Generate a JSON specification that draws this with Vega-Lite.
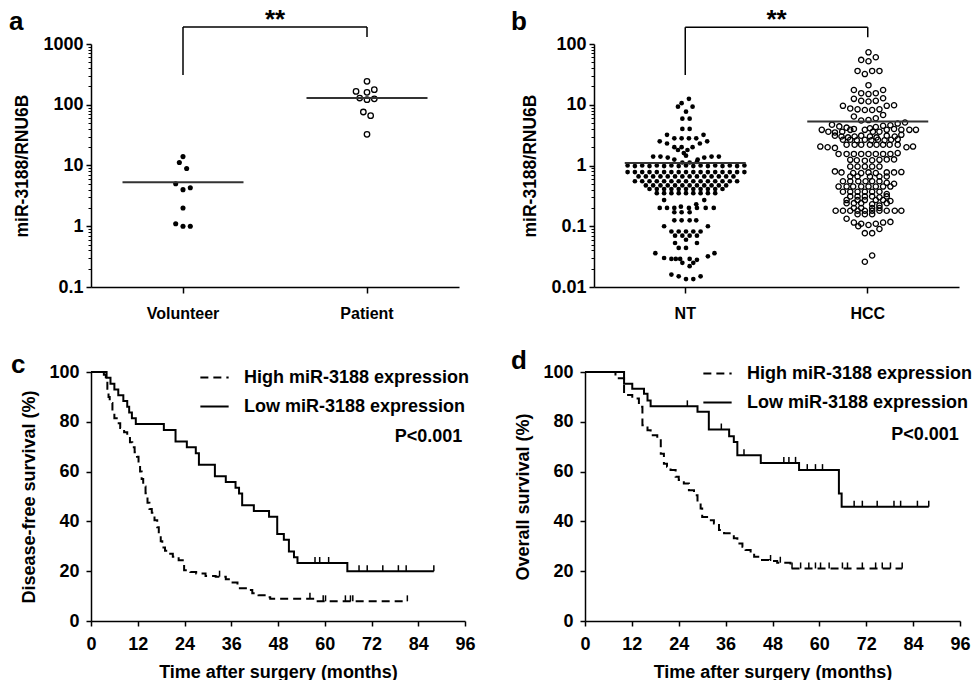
{
  "$schema": "https://vega.github.io/schema/vega-lite/v6.json",
  "padding": {"left": 9, "top": 6, "right": 0, "bottom": 0},
  "background": "white",
  "config": {
    "view": {"stroke": null},
    "font": "Liberation Sans",
    "axis": {"grid": false, "domainColor": "#000", "domainWidth": 1.5, "tickColor": "#000", "tickWidth": 1.5, "labelColor": "#000", "labelFont": "Liberation Sans", "labelFontWeight": "bold", "titleColor": "#000", "titleFont": "Liberation Sans", "titleFontWeight": "bold", "labelOverlap": false},
    "title": {"font": "Liberation Sans", "fontWeight": "bold", "fontSize": 26, "anchor": "start", "frame": "group", "color": "#000"}
  },
  "datasets": {
    "a_vol": [
      {"g": "Volunteer", "v": 14, "c": 0}, {"g": "Volunteer", "v": 11.2, "c": -0.5}, {"g": "Volunteer", "v": 8.9, "c": 0.5},
      {"g": "Volunteer", "v": 5.0, "c": -1}, {"g": "Volunteer", "v": 4.0, "c": 0}, {"g": "Volunteer", "v": 4.3, "c": 1},
      {"g": "Volunteer", "v": 2.0, "c": 0}, {"g": "Volunteer", "v": 1.1, "c": -1}, {"g": "Volunteer", "v": 1.0, "c": 0}, {"g": "Volunteer", "v": 1.0, "c": 1}
    ],
    "a_pat": [
      {"g": "Patient", "v": 243, "c": 0}, {"g": "Patient", "v": 166, "c": -1.5}, {"g": "Patient", "v": 160, "c": 0},
      {"g": "Patient", "v": 177, "c": 1}, {"g": "Patient", "v": 129, "c": -1}, {"g": "Patient", "v": 121, "c": 0},
      {"g": "Patient", "v": 125, "c": 1}, {"g": "Patient", "v": 76, "c": -0.5}, {"g": "Patient", "v": 66, "c": 0.5}, {"g": "Patient", "v": 32.6, "c": 0}
    ],
    "a_med": [{"g": "Volunteer", "v": 5.3}, {"g": "Patient", "v": 129}],
    "b_med": [{"g": "NT", "v": 1.1}, {"g": "HCC", "v": 5.3}],
    "b_nt": [
      {"g":"NT","v":12.5,"c":0.4},{"g":"NT","v":10.6,"c":-0.6},{"g":"NT","v":9.3,"c":-1.1},{"g":"NT","v":9.3,"c":0.9},{"g":"NT","v":7.7,"c":0},
      {"g":"NT","v":5.9,"c":-0.5},{"g":"NT","v":5.9,"c":0.5},{"g":"NT","v":4.0,"c":-0.5},{"g":"NT","v":4.0,"c":0.5},
      {"g":"NT","v":3.2,"c":-2.6},{"g":"NT","v":3.2,"c":2.4},{"g":"NT","v":2.8,"c":-1.6},{"g":"NT","v":2.8,"c":-0.6},{"g":"NT","v":2.8,"c":0.4},{"g":"NT","v":2.8,"c":1.4},
      {"g":"NT","v":2.5,"c":-3.6},{"g":"NT","v":2.5,"c":2.9},{"g":"NT","v":2.3,"c":-2.6},{"g":"NT","v":2.3,"c":1.9},
      {"g":"NT","v":2.0,"c":-1.6},{"g":"NT","v":2.0,"c":-0.6},{"g":"NT","v":2.0,"c":0.9},{"g":"NT","v":1.8,"c":-1.1},{"g":"NT","v":1.8,"c":0.2},{"g":"NT","v":1.6,"c":-0.3},
      {"g":"NT","v":1.4,"c":-4.5},{"g":"NT","v":1.4,"c":-3.5},{"g":"NT","v":1.35,"c":-2.5},{"g":"NT","v":1.45,"c":0},{"g":"NT","v":1.35,"c":2.5},{"g":"NT","v":1.4,"c":3.5},{"g":"NT","v":1.4,"c":4.5},
      {"g":"NT","v":1.25,"c":-1.6},{"g":"NT","v":1.25,"c":1.6},{"g":"NT","v":1.12,"c":-0.5},{"g":"NT","v":1.12,"c":0.5},{"g":"NT","v":1.15,"c":1.5},
      {"g":"NT","v":1.0,"c":-8},{"g":"NT","v":0.98,"c":-7},{"g":"NT","v":1.0,"c":-6},{"g":"NT","v":0.98,"c":-5},{"g":"NT","v":1.0,"c":-4},{"g":"NT","v":0.98,"c":-3},{"g":"NT","v":1.0,"c":-2},{"g":"NT","v":0.98,"c":-1},{"g":"NT","v":1.0,"c":0},
      {"g":"NT","v":0.98,"c":1},{"g":"NT","v":1.0,"c":2},{"g":"NT","v":0.98,"c":3},{"g":"NT","v":1.0,"c":4},{"g":"NT","v":0.98,"c":5},{"g":"NT","v":1.0,"c":6},{"g":"NT","v":0.98,"c":7},{"g":"NT","v":1.0,"c":8},
      {"g":"NT","v":0.78,"c":-8},{"g":"NT","v":0.78,"c":-7},{"g":"NT","v":0.78,"c":-6},{"g":"NT","v":0.78,"c":-5},{"g":"NT","v":0.78,"c":-4},{"g":"NT","v":0.78,"c":-3},{"g":"NT","v":0.78,"c":-2},{"g":"NT","v":0.78,"c":-1},{"g":"NT","v":0.78,"c":0},
      {"g":"NT","v":0.78,"c":1},{"g":"NT","v":0.78,"c":2},{"g":"NT","v":0.78,"c":3},{"g":"NT","v":0.78,"c":4},{"g":"NT","v":0.78,"c":5},{"g":"NT","v":0.78,"c":6},{"g":"NT","v":0.78,"c":7},{"g":"NT","v":0.78,"c":8},
      {"g":"NT","v":0.66,"c":-6.5},{"g":"NT","v":0.66,"c":-5.5},{"g":"NT","v":0.66,"c":-4.5},{"g":"NT","v":0.66,"c":-3.5},{"g":"NT","v":0.66,"c":-2.5},{"g":"NT","v":0.66,"c":-1.5},{"g":"NT","v":0.66,"c":-0.5},
      {"g":"NT","v":0.66,"c":0.5},{"g":"NT","v":0.66,"c":1.5},{"g":"NT","v":0.66,"c":2.5},{"g":"NT","v":0.66,"c":3.5},{"g":"NT","v":0.66,"c":4.5},{"g":"NT","v":0.66,"c":5.5},{"g":"NT","v":0.66,"c":6.5},
      {"g":"NT","v":0.55,"c":-7},{"g":"NT","v":0.55,"c":-6},{"g":"NT","v":0.55,"c":-5},{"g":"NT","v":0.55,"c":-4},{"g":"NT","v":0.55,"c":-3},{"g":"NT","v":0.55,"c":-2},{"g":"NT","v":0.55,"c":-1},{"g":"NT","v":0.55,"c":0},
      {"g":"NT","v":0.55,"c":1},{"g":"NT","v":0.55,"c":2},{"g":"NT","v":0.55,"c":3},{"g":"NT","v":0.55,"c":4},{"g":"NT","v":0.55,"c":5},{"g":"NT","v":0.55,"c":6},{"g":"NT","v":0.55,"c":7},
      {"g":"NT","v":0.47,"c":-5.5},{"g":"NT","v":0.47,"c":-4.5},{"g":"NT","v":0.47,"c":-3.5},{"g":"NT","v":0.47,"c":-2.5},{"g":"NT","v":0.47,"c":-1.5},{"g":"NT","v":0.47,"c":-0.5},
      {"g":"NT","v":0.47,"c":0.5},{"g":"NT","v":0.47,"c":1.5},{"g":"NT","v":0.47,"c":2.5},{"g":"NT","v":0.47,"c":3.5},{"g":"NT","v":0.47,"c":4.5},{"g":"NT","v":0.47,"c":5.5},
      {"g":"NT","v":0.41,"c":-5},{"g":"NT","v":0.41,"c":-4},{"g":"NT","v":0.41,"c":-3},{"g":"NT","v":0.41,"c":-2},{"g":"NT","v":0.41,"c":-1},{"g":"NT","v":0.41,"c":0},{"g":"NT","v":0.41,"c":1},{"g":"NT","v":0.41,"c":2},{"g":"NT","v":0.41,"c":3},{"g":"NT","v":0.41,"c":4},{"g":"NT","v":0.41,"c":5},
      {"g":"NT","v":0.35,"c":-4},{"g":"NT","v":0.35,"c":-3},{"g":"NT","v":0.35,"c":-2},{"g":"NT","v":0.35,"c":-1},{"g":"NT","v":0.35,"c":0},{"g":"NT","v":0.35,"c":1},{"g":"NT","v":0.35,"c":2},{"g":"NT","v":0.35,"c":3},{"g":"NT","v":0.35,"c":4},
      {"g":"NT","v":0.27,"c":-3},{"g":"NT","v":0.27,"c":2.5},{"g":"NT","v":0.23,"c":1.4},
      {"g":"NT","v":0.2,"c":-3.6},{"g":"NT","v":0.2,"c":-2.6},{"g":"NT","v":0.2,"c":-1.6},{"g":"NT","v":0.21,"c":-0.7},{"g":"NT","v":0.2,"c":0.4},{"g":"NT","v":0.2,"c":1.5},{"g":"NT","v":0.2,"c":2.7},{"g":"NT","v":0.2,"c":3.8},
      {"g":"NT","v":0.17,"c":-1.6},{"g":"NT","v":0.17,"c":-0.6},{"g":"NT","v":0.17,"c":0.5},
      {"g":"NT","v":0.125,"c":-1.6},{"g":"NT","v":0.125,"c":-0.6},{"g":"NT","v":0.125,"c":0.5},{"g":"NT","v":0.125,"c":1.4},
      {"g":"NT","v":0.1,"c":-3},{"g":"NT","v":0.1,"c":3},
      {"g":"NT","v":0.082,"c":-2},{"g":"NT","v":0.082,"c":-1},{"g":"NT","v":0.082,"c":0},{"g":"NT","v":0.082,"c":1},{"g":"NT","v":0.082,"c":2},
      {"g":"NT","v":0.07,"c":-1.5},{"g":"NT","v":0.07,"c":-0.5},{"g":"NT","v":0.07,"c":0.5},{"g":"NT","v":0.07,"c":1.5},
      {"g":"NT","v":0.06,"c":0},{"g":"NT","v":0.053,"c":-1.5},{"g":"NT","v":0.053,"c":1.5},{"g":"NT","v":0.044,"c":-1},{"g":"NT","v":0.044,"c":0},
      {"g":"NT","v":0.036,"c":-4.2},{"g":"NT","v":0.036,"c":3.9},{"g":"NT","v":0.032,"c":3},
      {"g":"NT","v":0.03,"c":-3},{"g":"NT","v":0.029,"c":-2},{"g":"NT","v":0.029,"c":-1.4},{"g":"NT","v":0.029,"c":-0.8},{"g":"NT","v":0.029,"c":0.5},{"g":"NT","v":0.028,"c":1.5},
      {"g":"NT","v":0.025,"c":-0.5},{"g":"NT","v":0.025,"c":1},{"g":"NT","v":0.022,"c":0.5},
      {"g":"NT","v":0.016,"c":-2},{"g":"NT","v":0.015,"c":-1},{"g":"NT","v":0.0135,"c":0},{"g":"NT","v":0.0135,"c":1},{"g":"NT","v":0.015,"c":2}
    ],
    "b_hcc": [
      {"g":"HCC","v":73,"c":0},{"g":"HCC","v":60.6,"c":1},{"g":"HCC","v":54.7,"c":-1},{"g":"HCC","v":52,"c":0},
      {"g":"HCC","v":36,"c":-1.5},{"g":"HCC","v":32,"c":-0.5},{"g":"HCC","v":36,"c":0.5},{"g":"HCC","v":36,"c":1.5},
      {"g":"HCC","v":21,"c":0},
      {"g":"HCC","v":17.5,"c":-2},{"g":"HCC","v":15.5,"c":-1},{"g":"HCC","v":15,"c":0},{"g":"HCC","v":15.5,"c":1},{"g":"HCC","v":17.5,"c":2},
      {"g":"HCC","v":12.5,"c":-2},{"g":"HCC","v":11.6,"c":-1},{"g":"HCC","v":11.3,"c":0},{"g":"HCC","v":11.6,"c":1},{"g":"HCC","v":12.8,"c":2},
      {"g":"HCC","v":9.6,"c":-3.5},{"g":"HCC","v":8.7,"c":-2.5},{"g":"HCC","v":8.4,"c":-1.5},{"g":"HCC","v":8.2,"c":-0.5},{"g":"HCC","v":8.2,"c":0.5},{"g":"HCC","v":8.4,"c":1.5},{"g":"HCC","v":9.6,"c":2.5},{"g":"HCC","v":9.8,"c":3.5},
      {"g":"HCC","v":6.4,"c":-2},{"g":"HCC","v":5.5,"c":-1},{"g":"HCC","v":5.6,"c":0},{"g":"HCC","v":6.0,"c":1},{"g":"HCC","v":6.8,"c":2},
      {"g":"HCC","v":4.7,"c":-5},{"g":"HCC","v":4.4,"c":-4},{"g":"HCC","v":4.2,"c":-3},{"g":"HCC","v":4.0,"c":-2},{"g":"HCC","v":4.1,"c":0.2},{"g":"HCC","v":4.3,"c":1},{"g":"HCC","v":4.5,"c":2},{"g":"HCC","v":4.6,"c":3},{"g":"HCC","v":4.9,"c":4},{"g":"HCC","v":5.1,"c":5},
      {"g":"HCC","v":3.86,"c":-6.4},{"g":"HCC","v":3.6,"c":-5.5},{"g":"HCC","v":3.5,"c":-4.6},{"g":"HCC","v":3.6,"c":-3.6},{"g":"HCC","v":3.86,"c":-2.5},{"g":"HCC","v":3.86,"c":-0.5},{"g":"HCC","v":3.6,"c":0.6},
      {"g":"HCC","v":3.6,"c":1.5},{"g":"HCC","v":3.86,"c":2.5},{"g":"HCC","v":4.0,"c":3.5},{"g":"HCC","v":3.86,"c":4.5},{"g":"HCC","v":3.86,"c":5.6},{"g":"HCC","v":3.86,"c":6.5},
      {"g":"HCC","v":3.1,"c":-4.6},{"g":"HCC","v":3.0,"c":-3.7},{"g":"HCC","v":2.9,"c":-2.8},{"g":"HCC","v":3.0,"c":-1.9},{"g":"HCC","v":3.1,"c":-1},{"g":"HCC","v":3.0,"c":0.2},{"g":"HCC","v":2.9,"c":1.1},{"g":"HCC","v":3.1,"c":2.5},{"g":"HCC","v":3.0,"c":3.6},{"g":"HCC","v":3.2,"c":4.5},
      {"g":"HCC","v":2.65,"c":-3.5},{"g":"HCC","v":2.65,"c":-2.5},{"g":"HCC","v":2.6,"c":-1.6},{"g":"HCC","v":2.65,"c":-0.5},{"g":"HCC","v":2.6,"c":0.4},{"g":"HCC","v":2.65,"c":1.3},{"g":"HCC","v":2.6,"c":2.2},{"g":"HCC","v":2.65,"c":3.1},{"g":"HCC","v":2.7,"c":4},
      {"g":"HCC","v":2.2,"c":-3},{"g":"HCC","v":2.2,"c":-1.9},{"g":"HCC","v":2.2,"c":-1},{"g":"HCC","v":2.2,"c":0.2},{"g":"HCC","v":2.2,"c":1.1},{"g":"HCC","v":2.2,"c":2},{"g":"HCC","v":2.2,"c":2.9},{"g":"HCC","v":2.2,"c":4},
      {"g":"HCC","v":2.05,"c":-6.6},{"g":"HCC","v":2.0,"c":-5.6},{"g":"HCC","v":1.95,"c":-4.6},{"g":"HCC","v":2.0,"c":5.2},{"g":"HCC","v":2.05,"c":6.1},
      {"g":"HCC","v":1.55,"c":-4.1},{"g":"HCC","v":1.55,"c":-3},{"g":"HCC","v":1.55,"c":-2},{"g":"HCC","v":1.55,"c":-1},{"g":"HCC","v":1.55,"c":0},{"g":"HCC","v":1.55,"c":1},{"g":"HCC","v":1.55,"c":2},{"g":"HCC","v":1.55,"c":3},{"g":"HCC","v":1.6,"c":4},
      {"g":"HCC","v":1.24,"c":-2.5},{"g":"HCC","v":1.22,"c":-1.6},{"g":"HCC","v":1.2,"c":-0.5},{"g":"HCC","v":1.22,"c":0.5},{"g":"HCC","v":1.24,"c":1.5},{"g":"HCC","v":1.26,"c":2.5},{"g":"HCC","v":1.26,"c":3.5},
      {"g":"HCC","v":0.96,"c":-2.5},{"g":"HCC","v":0.96,"c":-1.5},{"g":"HCC","v":0.96,"c":-0.5},{"g":"HCC","v":0.96,"c":0.5},{"g":"HCC","v":0.96,"c":1.5},
      {"g":"HCC","v":0.8,"c":-4.6},{"g":"HCC","v":0.77,"c":-3.7},{"g":"HCC","v":0.75,"c":-2.1},{"g":"HCC","v":0.75,"c":-1},{"g":"HCC","v":0.77,"c":0},{"g":"HCC","v":0.75,"c":1},{"g":"HCC","v":0.77,"c":2.5},{"g":"HCC","v":0.77,"c":3.5},{"g":"HCC","v":0.78,"c":4.5},
      {"g":"HCC","v":0.66,"c":-2.5},{"g":"HCC","v":0.66,"c":-1.5},{"g":"HCC","v":0.66,"c":0.2},{"g":"HCC","v":0.66,"c":1.5},{"g":"HCC","v":0.66,"c":2.5},
      {"g":"HCC","v":0.55,"c":-3.5},{"g":"HCC","v":0.55,"c":-2.5},{"g":"HCC","v":0.55,"c":-1.4},{"g":"HCC","v":0.55,"c":-0.4},{"g":"HCC","v":0.55,"c":0.5},{"g":"HCC","v":0.55,"c":1.5},{"g":"HCC","v":0.52,"c":2.5},{"g":"HCC","v":0.5,"c":3.5},
      {"g":"HCC","v":0.45,"c":-4.1},{"g":"HCC","v":0.45,"c":-3},{"g":"HCC","v":0.45,"c":-2.1},{"g":"HCC","v":0.45,"c":-1},{"g":"HCC","v":0.45,"c":0},{"g":"HCC","v":0.45,"c":1},{"g":"HCC","v":0.45,"c":2},{"g":"HCC","v":0.45,"c":3},
      {"g":"HCC","v":0.37,"c":-3.5},{"g":"HCC","v":0.37,"c":-2.5},{"g":"HCC","v":0.37,"c":-1.5},{"g":"HCC","v":0.37,"c":-0.5},{"g":"HCC","v":0.37,"c":0.5},{"g":"HCC","v":0.37,"c":1.5},{"g":"HCC","v":0.34,"c":2.5},
      {"g":"HCC","v":0.31,"c":-2.5},{"g":"HCC","v":0.31,"c":-1.5},{"g":"HCC","v":0.31,"c":-0.5},{"g":"HCC","v":0.31,"c":0.5},{"g":"HCC","v":0.3,"c":1.5},{"g":"HCC","v":0.31,"c":2.5},
      {"g":"HCC","v":0.27,"c":-3},{"g":"HCC","v":0.27,"c":-1.5},{"g":"HCC","v":0.27,"c":-0.5},{"g":"HCC","v":0.27,"c":1},{"g":"HCC","v":0.27,"c":2},{"g":"HCC","v":0.26,"c":3},
      {"g":"HCC","v":0.24,"c":-3},{"g":"HCC","v":0.24,"c":-2},{"g":"HCC","v":0.24,"c":-1},{"g":"HCC","v":0.23,"c":0.5},{"g":"HCC","v":0.22,"c":1.5},{"g":"HCC","v":0.24,"c":2.5},
      {"g":"HCC","v":0.2,"c":-2},{"g":"HCC","v":0.2,"c":-1},{"g":"HCC","v":0.2,"c":0.5},{"g":"HCC","v":0.2,"c":1.5},
      {"g":"HCC","v":0.18,"c":-4.5},{"g":"HCC","v":0.18,"c":-3.5},{"g":"HCC","v":0.18,"c":-2.5},{"g":"HCC","v":0.18,"c":-1.5},{"g":"HCC","v":0.18,"c":-0.5},{"g":"HCC","v":0.18,"c":0.5},{"g":"HCC","v":0.18,"c":1.5},{"g":"HCC","v":0.18,"c":2.5},{"g":"HCC","v":0.18,"c":3.6},{"g":"HCC","v":0.18,"c":4.5},
      {"g":"HCC","v":0.158,"c":-1.5},{"g":"HCC","v":0.158,"c":-0.5},{"g":"HCC","v":0.158,"c":0.5},
      {"g":"HCC","v":0.133,"c":-3},
      {"g":"HCC","v":0.115,"c":-2},{"g":"HCC","v":0.11,"c":-1},{"g":"HCC","v":0.105,"c":0},{"g":"HCC","v":0.11,"c":1},{"g":"HCC","v":0.115,"c":2},{"g":"HCC","v":0.118,"c":3},
      {"g":"HCC","v":0.1,"c":-1.4},{"g":"HCC","v":0.09,"c":1.5},{"g":"HCC","v":0.077,"c":-0.5},{"g":"HCC","v":0.077,"c":0.5},
      {"g":"HCC","v":0.033,"c":0.5},{"g":"HCC","v":0.026,"c":-0.5}
    ],
    "c_curve": [
      {"grp":"Low","t":0,"s":100},{"grp":"Low","t":4.0,"s":97.7},{"grp":"Low","t":5.0,"s":95.3},{"grp":"Low","t":6.0,"s":93.0},{"grp":"Low","t":7.0,"s":90.7},{"grp":"Low","t":8.3,"s":88.4},
      {"grp":"Low","t":9.3,"s":86.0},{"grp":"Low","t":9.8,"s":83.7},{"grp":"Low","t":10.5,"s":81.4},{"grp":"Low","t":11.5,"s":79.1},{"grp":"Low","t":18.7,"s":76.7},{"grp":"Low","t":21.7,"s":72.1},
      {"grp":"Low","t":24.6,"s":69.8},{"grp":"Low","t":26.9,"s":67.4},{"grp":"Low","t":27.7,"s":62.8},{"grp":"Low","t":31.8,"s":58.1},{"grp":"Low","t":34.6,"s":55.8},{"grp":"Low","t":37.1,"s":53.5},
      {"grp":"Low","t":38.0,"s":51.2},{"grp":"Low","t":38.8,"s":46.5},{"grp":"Low","t":41.8,"s":44.2},{"grp":"Low","t":45.7,"s":41.9},{"grp":"Low","t":47.8,"s":34.9},{"grp":"Low","t":49.5,"s":32.6},
      {"grp":"Low","t":50.8,"s":27.9},{"grp":"Low","t":52.1,"s":25.6},{"grp":"Low","t":53.0,"s":23.3},{"grp":"Low","t":65.8,"s":20.0},{"grp":"Low","t":88,"s":20.0},
      {"grp":"High","t":0,"s":100},{"grp":"High","t":3.3,"s":98.9},{"grp":"High","t":3.8,"s":96.7},{"grp":"High","t":4.2,"s":93.3},{"grp":"High","t":4.5,"s":90.0},{"grp":"High","t":4.8,"s":87.6},
      {"grp":"High","t":5.5,"s":84.3},{"grp":"High","t":6.0,"s":81.4},{"grp":"High","t":6.6,"s":79.4},{"grp":"High","t":7.5,"s":77.5},{"grp":"High","t":8.5,"s":75.8},{"grp":"High","t":9.3,"s":73.9},
      {"grp":"High","t":10.0,"s":71.8},{"grp":"High","t":10.6,"s":69.8},{"grp":"High","t":11.2,"s":67.8},{"grp":"High","t":11.8,"s":66.0},{"grp":"High","t":12.2,"s":63.1},{"grp":"High","t":12.6,"s":60.0},
      {"grp":"High","t":13.0,"s":57.0},{"grp":"High","t":13.4,"s":54.0},{"grp":"High","t":14.0,"s":51.3},{"grp":"High","t":14.5,"s":47.5},{"grp":"High","t":15.0,"s":45.0},{"grp":"High","t":15.6,"s":43.5},
      {"grp":"High","t":16.3,"s":40.5},{"grp":"High","t":17.0,"s":37.7},{"grp":"High","t":17.4,"s":35.0},{"grp":"High","t":17.9,"s":32.0},{"grp":"High","t":18.3,"s":29.5},{"grp":"High","t":19.0,"s":28.2},
      {"grp":"High","t":20.0,"s":27.0},{"grp":"High","t":21.0,"s":25.8},{"grp":"High","t":22.5,"s":24.4},{"grp":"High","t":23.9,"s":20.4},{"grp":"High","t":25.5,"s":19.7},{"grp":"High","t":27.0,"s":19.1},
      {"grp":"High","t":29.4,"s":18.1},{"grp":"High","t":32.0,"s":17.8},{"grp":"High","t":34.6,"s":16.8},{"grp":"High","t":36.0,"s":15.5},{"grp":"High","t":37.6,"s":13.2},{"grp":"High","t":40.1,"s":12.4},
      {"grp":"High","t":41.4,"s":11.1},{"grp":"High","t":43.0,"s":10.3},{"grp":"High","t":45.0,"s":9.5},{"grp":"High","t":46.0,"s":8.9},{"grp":"High","t":57.8,"s":7.9},{"grp":"High","t":81.2,"s":7.9}
    ],
    "c_cens": [
      {"t":57.5,"s":23.3},{"t":58.7,"s":23.3},{"t":61,"s":23.3},{"t":68.8,"s":20},{"t":70.9,"s":20},{"t":74.9,"s":20},{"t":78.9,"s":20},{"t":80.9,"s":20},{"t":88,"s":20},
      {"t":33,"s":17.8},{"t":56.2,"s":8.9},{"t":59.6,"s":7.9},{"t":60.2,"s":7.9},{"t":65.3,"s":7.9},{"t":66.6,"s":7.9},{"t":67.2,"s":7.9},{"t":81.2,"s":7.9}
    ],
    "d_curve": [
      {"grp":"Low","t":0,"s":100},{"grp":"Low","t":10.0,"s":95.3},{"grp":"Low","t":12.1,"s":93.3},{"grp":"Low","t":15.1,"s":91.3},{"grp":"Low","t":16.0,"s":88.6},{"grp":"Low","t":16.8,"s":86.2},
      {"grp":"Low","t":28.8,"s":84.0},{"grp":"Low","t":31.7,"s":76.9},{"grp":"Low","t":36.9,"s":74.2},{"grp":"Low","t":38.1,"s":71.9},{"grp":"Low","t":39.0,"s":66.6},{"grp":"Low","t":45.0,"s":63.5},
      {"grp":"Low","t":54.8,"s":60.6},{"grp":"Low","t":65.0,"s":51.2},{"grp":"Low","t":65.7,"s":45.9},{"grp":"Low","t":88,"s":45.9},
      {"grp":"High","t":0,"s":100},{"grp":"High","t":7.8,"s":97.5},{"grp":"High","t":10.0,"s":90.8},{"grp":"High","t":12.1,"s":89.4},{"grp":"High","t":13.8,"s":86.0},{"grp":"High","t":14.7,"s":78.6},
      {"grp":"High","t":16.0,"s":76.6},{"grp":"High","t":16.8,"s":74.6},{"grp":"High","t":18.5,"s":72.6},{"grp":"High","t":19.4,"s":67.2},{"grp":"High","t":20.2,"s":63.2},{"grp":"High","t":21.0,"s":61.9},
      {"grp":"High","t":21.9,"s":60.6},{"grp":"High","t":23.2,"s":57.9},{"grp":"High","t":24.0,"s":56.6},{"grp":"High","t":25.3,"s":55.2},{"grp":"High","t":26.6,"s":52.5},{"grp":"High","t":27.9,"s":50.5},
      {"grp":"High","t":28.8,"s":47.9},{"grp":"High","t":29.6,"s":45.2},{"grp":"High","t":30.0,"s":41.8},{"grp":"High","t":31.7,"s":40.5},{"grp":"High","t":33.0,"s":39.2},{"grp":"High","t":34.3,"s":36.5},
      {"grp":"High","t":35.6,"s":35.2},{"grp":"High","t":38.1,"s":33.2},{"grp":"High","t":39.0,"s":31.1},{"grp":"High","t":40.3,"s":29.8},{"grp":"High","t":41.1,"s":28.5},{"grp":"High","t":42.4,"s":27.1},
      {"grp":"High","t":43.3,"s":25.8},{"grp":"High","t":45.0,"s":24.5},{"grp":"High","t":47.1,"s":24.1},{"grp":"High","t":49.2,"s":23.4},{"grp":"High","t":52.6,"s":21.1},{"grp":"High","t":81.2,"s":21.1}
    ],
    "d_cens": [
      {"t":26.2,"s":86.2},{"t":34.9,"s":76.9},{"t":40.7,"s":66.6},{"t":50.9,"s":63.5},{"t":52.2,"s":63.5},{"t":53.9,"s":63.5},{"t":56.9,"s":60.6},{"t":59,"s":60.6},{"t":60.8,"s":60.6},
      {"t":68.9,"s":45.9},{"t":71,"s":45.9},{"t":74.8,"s":45.9},{"t":79.1,"s":45.9},{"t":80.8,"s":45.9},{"t":85.1,"s":45.9},{"t":88,"s":45.9},
      {"t":47.5,"s":24.1},{"t":50,"s":23.4},{"t":53,"s":21.1},{"t":55.2,"s":21.1},{"t":57.3,"s":21.1},{"t":59,"s":21.1},{"t":60.3,"s":21.1},{"t":62.5,"s":21.1},{"t":65.9,"s":21.1},
      {"t":67.2,"s":21.1},{"t":71,"s":21.1},{"t":74.4,"s":21.1},{"t":76.1,"s":21.1},{"t":78.2,"s":21.1},{"t":81.2,"s":21.1}
    ]
  },
  "vconcat": [
    {
      "bounds": "flush",
      "spacing": 135,
      "hconcat": [
        {
          "width": 368, "height": 243,
          "title": {"text": "a", "dx": -82, "dy": 32},
          "resolve": {"axis": {"y": "independent"}},
          "layer": [
            {"data": {"name": "a_vol"}, "mark": {"type": "circle", "size": 26, "color": "#000", "opacity": 1},
             "encoding": {
               "x": {"field": "g", "type": "nominal", "scale": {"type": "band", "domain": ["Volunteer", "Patient"], "paddingInner": 0, "paddingOuter": 0}, "axis": {"title": null, "labelFontSize": 16, "labelAngle": 0, "tickSize": 6, "labelPadding": 12}},
               "xOffset": {"field": "c", "type": "quantitative", "scale": {"domain": [-10, 10], "range": [19, 165]}},
               "y": {"field": "v", "type": "quantitative", "scale": {"type": "log", "domain": [0.1, 1000]}, "axis": {"orient": "left", "values": [0.1, 1, 10, 100, 1000], "format": "~g", "title": "miR-3188/RNU6B", "titleFontSize": 17.5, "labelFontSize": 18, "tickSize": 5, "labelPadding": 3, "titlePadding": 11}}
             }},
            {"data": {"name": "a_pat"}, "mark": {"type": "point", "shape": "circle", "size": 30, "filled": false, "stroke": "#000", "strokeWidth": 1.3, "opacity": 1},
             "encoding": {"x": {"field": "g", "type": "nominal"}, "xOffset": {"field": "c", "type": "quantitative"}, "y": {"field": "v", "type": "quantitative", "axis": null}}},
            {"data": {"name": "a_med"}, "mark": {"type": "tick", "size": 121, "thickness": 2, "color": "#333", "opacity": 1},
             "encoding": {"x": {"field": "g", "type": "nominal"}, "y": {"field": "v", "type": "quantitative", "axis": null}}},
            {"data": {"name": "a_med"}, "mark": {"type": "point", "opacity": 0},
             "encoding": {"x": {"field": "g", "type": "nominal"}, "y": {"field": "v", "type": "quantitative", "axis": {"orient": "left", "values": [0.2,0.3,0.4,0.5,0.6,0.7,0.8,0.9,2,3,4,5,6,7,8,9,20,30,40,50,60,70,80,90,200,300,400,500,600,700,800,900], "labels": false, "domain": false, "tickSize": 3, "tickWidth": 1, "title": null}}}},
            {"data": {"values": [{}]}, "mark": {"type": "rule", "strokeWidth": 1.5, "color": "#000"},
             "encoding": {"x": {"datum": "Volunteer"}, "x2": {"datum": "Patient"}, "y": {"datum": 1905, "axis": null}}},
            {"data": {"values": [{}]}, "mark": {"type": "rule", "strokeWidth": 1.5, "color": "#000"},
             "encoding": {"x": {"datum": "Volunteer"}, "y": {"datum": 309, "axis": null}, "y2": {"datum": 1905}}},
            {"data": {"values": [{}]}, "mark": {"type": "rule", "strokeWidth": 1.5, "color": "#000"},
             "encoding": {"x": {"datum": "Patient"}, "y": {"datum": 1303, "axis": null}, "y2": {"datum": 1905}}},
            {"data": {"values": [{"label": "**"}]}, "mark": {"type": "text", "fontSize": 26, "fontWeight": "bold", "font": "Liberation Sans", "baseline": "alphabetic", "align": "center", "color": "#000"},
             "encoding": {"x": {"datum": "Patient", "bandPosition": 0}, "y": {"datum": 1850, "axis": null}, "text": {"field": "label"}}}
          ]
        },
        {
          "width": 365, "height": 243,
          "title": {"text": "b", "dx": -83, "dy": 32},
          "resolve": {"axis": {"y": "independent"}},
          "layer": [
            {"data": {"name": "b_nt"}, "mark": {"type": "circle", "size": 22, "color": "#000", "opacity": 1},
             "encoding": {
               "x": {"field": "g", "type": "nominal", "scale": {"type": "band", "domain": ["NT", "HCC"], "paddingInner": 0, "paddingOuter": 0}, "axis": {"title": null, "labelFontSize": 16, "labelAngle": 0, "tickSize": 6, "labelPadding": 12}},
               "xOffset": {"field": "c", "type": "quantitative", "scale": {"domain": [-10, 10], "range": [19, 165]}},
               "y": {"field": "v", "type": "quantitative", "scale": {"type": "log", "domain": [0.01, 100]}, "axis": {"orient": "left", "values": [0.01, 0.1, 1, 10, 100], "format": "~g", "title": "miR-3188/RNU6B", "titleFontSize": 17.5, "labelFontSize": 18, "tickSize": 5, "labelPadding": 3, "titlePadding": 11}}
             }},
            {"data": {"name": "b_hcc"}, "mark": {"type": "point", "shape": "circle", "size": 28, "filled": false, "stroke": "#000", "strokeWidth": 1.3, "opacity": 1},
             "encoding": {"x": {"field": "g", "type": "nominal"}, "xOffset": {"field": "c", "type": "quantitative"}, "y": {"field": "v", "type": "quantitative", "axis": null}}},
            {"data": {"name": "b_med"}, "mark": {"type": "tick", "size": 121, "thickness": 2, "color": "#333", "opacity": 1},
             "encoding": {"x": {"field": "g", "type": "nominal"}, "y": {"field": "v", "type": "quantitative", "axis": null}}},
            {"data": {"name": "b_med"}, "mark": {"type": "point", "opacity": 0},
             "encoding": {"x": {"field": "g", "type": "nominal"}, "y": {"field": "v", "type": "quantitative", "axis": {"orient": "left", "values": [0.02,0.03,0.04,0.05,0.06,0.07,0.08,0.09,0.2,0.3,0.4,0.5,0.6,0.7,0.8,0.9,2,3,4,5,6,7,8,9,20,30,40,50,60,70,80,90], "labels": false, "domain": false, "tickSize": 3, "tickWidth": 1, "title": null}}}},
            {"data": {"values": [{}]}, "mark": {"type": "rule", "strokeWidth": 1.5, "color": "#000"},
             "encoding": {"x": {"datum": "NT"}, "x2": {"datum": "HCC"}, "y": {"datum": 188, "axis": null}}},
            {"data": {"values": [{}]}, "mark": {"type": "rule", "strokeWidth": 1.5, "color": "#000"},
             "encoding": {"x": {"datum": "NT"}, "y": {"datum": 31, "axis": null}, "y2": {"datum": 188}}},
            {"data": {"values": [{}]}, "mark": {"type": "rule", "strokeWidth": 1.5, "color": "#000"},
             "encoding": {"x": {"datum": "HCC"}, "y": {"datum": 129, "axis": null}, "y2": {"datum": 188}}},
            {"data": {"values": [{"label": "**"}]}, "mark": {"type": "text", "fontSize": 26, "fontWeight": "bold", "font": "Liberation Sans", "baseline": "alphabetic", "align": "center", "color": "#000"},
             "encoding": {"x": {"datum": "HCC", "bandPosition": 0}, "y": {"datum": 185, "axis": null}, "text": {"field": "label"}}}
          ]
        }
      ]
    },
    {
      "bounds": "flush",
      "spacing": 120,
      "resolve": {"scale": {"strokeDash": "independent"}, "legend": {"strokeDash": "independent"}},
      "hconcat": [
        {
          "width": 374, "height": 249,
          "title": {"text": "c", "dx": -80, "dy": 18, "offset": 2},
          "layer": [
            {"data": {"name": "c_curve"}, "mark": {"type": "line", "interpolate": "step-after", "color": "#000", "strokeWidth": 2},
             "encoding": {
               "x": {"field": "t", "type": "quantitative", "scale": {"domain": [0, 96], "nice": false}, "axis": {"values": [0,12,24,36,48,60,72,84,96], "title": "Time after surgery (months)", "titleFontSize": 18, "labelFontSize": 18, "tickSize": 5, "labelPadding": 9, "titlePadding": 10, "labelFlush": false}},
               "y": {"field": "s", "type": "quantitative", "scale": {"domain": [0, 100], "nice": false}, "axis": {"values": [0,20,40,60,80,100], "title": "Disease-free survival (%)", "titleFontSize": 18, "labelFontSize": 18, "tickSize": 5, "labelPadding": 7, "titlePadding": 10}},
               "strokeDash": {"field": "grp", "type": "nominal", "scale": {"domain": ["High", "Low"], "range": [[8, 5], [1, 0]]},
                 "legend": {"orient": "none", "legendX": 108, "legendY": -10, "title": null, "labelFontSize": 18, "labelFont": "Liberation Sans", "labelFontWeight": "bold", "labelColor": "#000", "symbolType": "stroke", "symbolStrokeWidth": 2, "symbolSize": 800, "symbolStrokeColor": "#000", "labelOffset": 14, "rowPadding": 4, "labelLimit": 400, "padding": 0, "labelExpr": "datum.label + ' miR-3188 expression'"}}
             }},
            {"data": {"name": "c_cens"}, "mark": {"type": "point", "shape": "M0,-1L0,0", "size": 144, "filled": false, "stroke": "#000", "strokeWidth": 1.5, "opacity": 1},
             "encoding": {"x": {"field": "t", "type": "quantitative"}, "y": {"field": "s", "type": "quantitative"}}},
            {"data": {"values": [{"label": "P<0.001"}]}, "mark": {"type": "text", "align": "right", "baseline": "middle", "fontSize": 18, "fontWeight": "bold", "font": "Liberation Sans", "color": "#000"},
             "encoding": {"x": {"datum": 95.3}, "y": {"datum": 74}, "text": {"field": "label"}}}
          ]
        },
        {
          "width": 375, "height": 249,
          "title": {"text": "d", "dx": -74, "dy": 18, "offset": 2},
          "layer": [
            {"data": {"name": "d_curve"}, "mark": {"type": "line", "interpolate": "step-after", "color": "#000", "strokeWidth": 2},
             "encoding": {
               "x": {"field": "t", "type": "quantitative", "scale": {"domain": [0, 96], "nice": false}, "axis": {"values": [0,12,24,36,48,60,72,84,96], "title": "Time after surgery (months)", "titleFontSize": 18, "labelFontSize": 18, "tickSize": 5, "labelPadding": 9, "titlePadding": 10, "labelFlush": false}},
               "y": {"field": "s", "type": "quantitative", "scale": {"domain": [0, 100], "nice": false}, "axis": {"values": [0,20,40,60,80,100], "title": "Overall survival (%)", "titleFontSize": 18, "labelFontSize": 18, "tickSize": 5, "labelPadding": 7, "titlePadding": 10}},
               "strokeDash": {"field": "grp", "type": "nominal", "scale": {"domain": ["High", "Low"], "range": [[8, 5], [1, 0]]},
                 "legend": {"orient": "none", "legendX": 117, "legendY": -14, "title": null, "labelFontSize": 18, "labelFont": "Liberation Sans", "labelFontWeight": "bold", "labelColor": "#000", "symbolType": "stroke", "symbolStrokeWidth": 2, "symbolSize": 800, "symbolStrokeColor": "#000", "labelOffset": 14, "rowPadding": 4, "labelLimit": 400, "padding": 0, "labelExpr": "datum.label + ' miR-3188 expression'"}}
             }},
            {"data": {"name": "d_cens"}, "mark": {"type": "point", "shape": "M0,-1L0,0", "size": 144, "filled": false, "stroke": "#000", "strokeWidth": 1.5, "opacity": 1},
             "encoding": {"x": {"field": "t", "type": "quantitative"}, "y": {"field": "s", "type": "quantitative"}}},
            {"data": {"values": [{"label": "P<0.001"}]}, "mark": {"type": "text", "align": "right", "baseline": "middle", "fontSize": 18, "fontWeight": "bold", "font": "Liberation Sans", "color": "#000"},
             "encoding": {"x": {"datum": 95.7}, "y": {"datum": 74.6}, "text": {"field": "label"}}}
          ]
        }
      ]
    }
  ],
  "spacing": 27
}
